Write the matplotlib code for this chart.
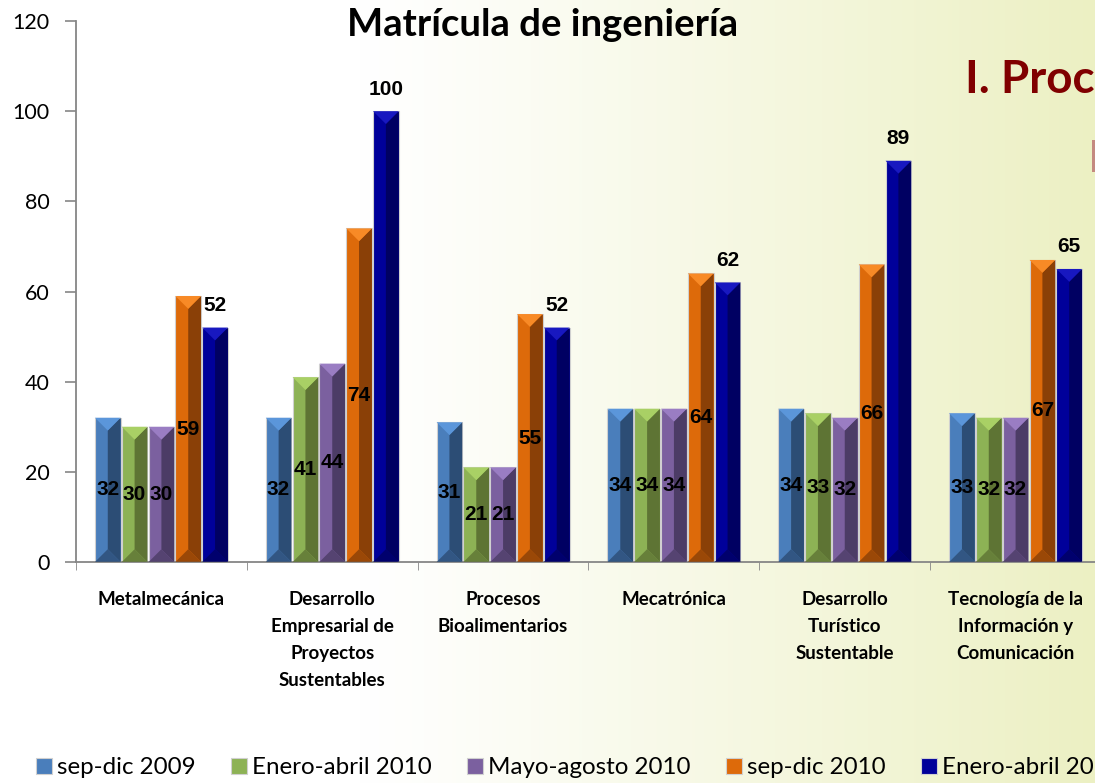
import matplotlib.pyplot as plt
import numpy as np
from matplotlib.patches import Polygon, Rectangle
from matplotlib.colors import to_rgb

# Data
categories = ['Metalmecánica',
              'Desarrollo\nEmpresarial de\nProyectos\nSustentables',
              'Procesos\nBioalimentarios',
              'Mecatrónica',
              'Desarrollo\nTurístico\nSustentable',
              'Tecnología de la\nInformación y\nComunicación']
series_names = ['sep-dic 2009', 'Enero-abril 2010', 'Mayo-agosto 2010',
                'sep-dic 2010', 'Enero-abril 2011']
sep_dic_2009 = [32, 32, 31, 34, 34, 33]
ene_abr_2010 = [30, 41, 21, 34, 33, 32]
may_ago_2010 = [30, 44, 21, 34, 32, 32]
sep_dic_2010 = [59, 74, 55, 64, 66, 67]
ene_abr_2011 = [52, 100, 52, 62, 89, 65]
series_values = [sep_dic_2009, ene_abr_2010, may_ago_2010, sep_dic_2010, ene_abr_2011]

# (face, dark side, light top)
colors = [('#4A7EBB', '#2C4D75', '#5B96DA'),
          ('#8DB255', '#5E7434', '#A9D065'),
          ('#7B609F', '#4C3C66', '#9A7DC3'),
          ('#DD6A0A', '#8A4007', '#F88A26'),
          ('#00009A', '#000062', '#1818C0')]

W, H = 1095, 783
fig = plt.figure(figsize=(W / 100, H / 100), dpi=100)

# background gradient white -> pale yellow-green
bg = fig.add_axes([0, 0, 1, 1], zorder=-10)
xs = np.linspace(0, 1, 500)
t = np.clip((xs - 0.33) / 0.67, 0, 1) ** 1.1
c0 = np.array([1.0, 1.0, 1.0])
c1 = np.array(to_rgb('#ECF0C3'))
img = c0 + (c1 - c0) * t[:, None]
bg.imshow(img[None, :, :], aspect='auto', extent=[0, 1, 0, 1])
bg.axis('off')

ax = fig.add_axes([76 / W, 221 / H, 1025 / W, 541 / H])
ax.set_facecolor('none')

x = np.arange(len(categories))
step = 0.157
bw = 0.150
px_per_unit = 541 / 120
bev = (bw * 1025 / 6 / 2) / px_per_unit

for i, vals in enumerate(series_values):
    face, dark, light = colors[i]
    bars = ax.bar(x + (i - 2) * step, vals, bw, color=face,
                  edgecolor='#D0D0D0', linewidth=0.8, zorder=2,
                  label=series_names[i])
    for rect in bars:
        bx, bwid, bh = rect.get_x(), rect.get_width(), rect.get_height()
        b = min(bev, bh / 2)
        ax.add_patch(Polygon([(bx + bwid / 2, b), (bx + bwid, 0), (bx + bwid, bh),
                              (bx + bwid / 2, bh - b)], closed=True, fc=dark,
                             ec='none', zorder=3))
        ax.add_patch(Polygon([(bx, bh), (bx + bwid, bh), (bx + bwid / 2, bh - b)],
                             closed=True, fc=light, ec='none', zorder=3))
        ax.add_patch(Polygon([(bx, 0), (bx + bwid, 0), (bx + bwid / 2, b)],
                             closed=True, fc=dark, ec='none', alpha=0.8, zorder=3))
    for rect, v in zip(bars, vals):
        cx = rect.get_x() + rect.get_width() / 2
        if i < 4:
            ax.text(cx, v / 2, str(v), ha='center', va='center', fontsize=15,
                    fontweight='bold', family='Liberation Sans', zorder=5)
        else:
            ax.annotate(str(v), (cx, v), xytext=(0, 9), textcoords='offset points',
                        ha='center', va='bottom', fontsize=15, fontweight='bold',
                        family='Liberation Sans', zorder=5)

ax.set_xlim(-0.5, 5.5)
ax.set_ylim(0, 120)
ax.set_yticks(np.arange(0, 121, 20))
ax.set_xticks(x)
ax.set_xticklabels(categories, fontsize=13.5, fontweight='bold', family='Lato',
                   linespacing=1.7, va='top')
ax.set_xticks(np.arange(-0.5, 6, 1), minor=True)
ax.tick_params(axis='x', which='major', length=0, pad=21)
ax.tick_params(axis='x', which='minor', length=6, color='#868686', direction='out')
ax.tick_params(axis='y', length=8, color='#868686', width=1.2, pad=11, labelsize=15.5)
for lab in ax.get_yticklabels():
    lab.set_family('Lato')
for s in ['top', 'right']:
    ax.spines[s].set_visible(False)
for s in ['left', 'bottom']:
    ax.spines[s].set_color('#868686')
    ax.spines[s].set_linewidth(1.3)

fig.text(543 / W, 1 - 25 / H, 'Matrícula de ingeniería', ha='center', va='center',
         fontsize=27.5, fontweight='bold', family='Lato')
fig.text(965 / W, 1 - 80 / H, 'I. Proc', ha='left', va='center', fontsize=33,
         fontweight='bold', family='Lato', color='#800000')
fig.patches.append(Rectangle((1092 / W, 1 - 172 / H), 3 / W, 32 / H,
                             transform=fig.transFigure, fc='#C48A80', ec='none'))

fig.legend(loc='center left', bbox_to_anchor=(36 / W, 1 - 768 / H), ncol=5,
           frameon=False, prop={'family': 'Lato', 'size': 17.4},
           handlelength=0.66, handleheight=0.66, handletextpad=0.22,
           columnspacing=1.45, borderaxespad=0, borderpad=0)

fig.savefig('out.png', dpi=100)
